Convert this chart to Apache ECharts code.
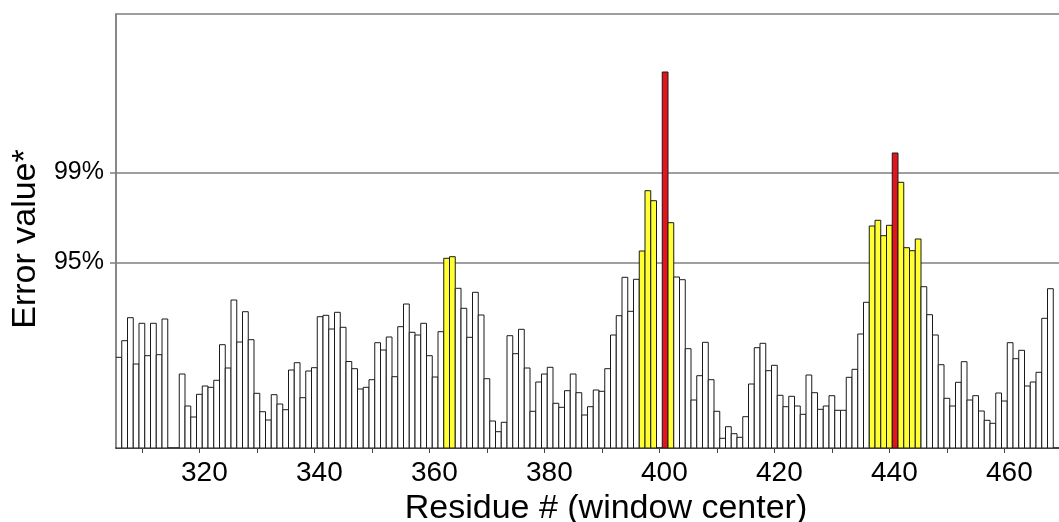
<!DOCTYPE html>
<html>
<head>
<meta charset="utf-8">
<script src="https://cdn.jsdelivr.net/npm/echarts@6/dist/echarts.min.js"></script>
<style>
html,body{margin:0;padding:0;background:#fff;}
#chart{width:1059px;height:522px;}
</style>
</head>
<body>
<div id="chart"></div>
<script>
// ---- data ----
const firstResidue = 306;
// error value per residue (306..468), arbitrary units; null = no window value
const errorValues = [
  90.7,107.3,130.3,84,124.7,92.3,124.7,93.3,129,null,          // 306-315
  null,74,42,31,53.7,62,60.7,67.7,103.3,80,                     // 316-325
  148,106,136.3,108.3,54.7,36.3,28,53.3,44,38.3,                // 326-335
  78,85.3,50.3,77,80.3,131.3,132.7,119,135.7,120.7,             // 336-345
  86.5,79.3,59,60.7,68.3,105.3,98,111,71.3,121.3,               // 346-355
  144,115.7,113,124.7,92.3,71,116.3,189.7,191.3,159.7,          // 356-365
  139.7,110.7,155.7,133,69.3,27,16.3,25.7,112.3,94.3,           // 366-375
  118.7,80,36.7,66,74,80.7,44.7,40.7,57.3,74,                   // 376-385
  55.3,33,41.3,58,56.7,79.3,113,132.3,170.7,136.7,              // 386-395
  168.7,197,257.3,247.3,null,376,225.3,171,168.3,99.3,          // 396-405
  48,72.3,105.7,68.3,36.7,9.7,21.3,14.3,10.7,31.3,              // 406-415
  64,100.3,104.7,77.3,82.7,52.7,41.3,51.7,42,33.7,              // 416-425
  73,55.3,38.7,42,52.3,37.7,37.7,70.7,78.7,114,                 // 426-435
  145.7,222,227.7,212.3,222.7,295,265.7,200.3,197.3,209,        // 436-445
  161.3,133.3,113,83.3,49.7,42,65.7,86.3,48,52.3,               // 446-455
  37,27.7,24.7,55,47,105.3,89.3,97.7,62,66,                     // 456-465
  75.7,129.7,159.3                                              // 466-468
];
const yellowResidues = [363,364,397,398,399,402,437,438,439,440,442,443,444,445];
const redResidues = [401,441];
const thresholdValues = [185.5, 275.7];
const thresholdLabels = ['95%', '99%'];
const xTickValues = [310,320,330,340,350,360,370,380,390,400,410,420,430,440,450,460,470];
const xLabelValues = [320,340,360,380,400,420,440,460];

// ---- chart ----
const pxPerResidue = 5.75;
const gridLeft = 116, gridWidth = 950;
const xMin = 305.5, xMax = xMin + gridWidth / pxPerResidue;

const barData = [];
errorValues.forEach((v, i) => {
  if (v === null) return;
  const r = firstResidue + i;
  let color = '#ffffff';
  if (redResidues.includes(r)) color = '#e3141b';
  else if (yellowResidues.includes(r)) color = '#ffff33';
  barData.push({ value: [r, v], itemStyle: { color: color } });
});

function renderBar(params, api) {
  const r = api.value(0), v = api.value(1);
  const p0 = api.coord([r - 0.5, 0]);
  const p1 = api.coord([r + 0.5, v]);
  return {
    type: 'rect',
    shape: { x: p0[0], y: p1[1], width: p1[0] - p0[0], height: p0[1] - p1[1] },
    style: { fill: api.visual('color'), stroke: '#1a1a1a', lineWidth: 1 }
  };
}

const FONT = '"Liberation Sans", Arial, Helvetica, sans-serif';
const chart = echarts.init(document.getElementById('chart'), null, { renderer: 'canvas' });
chart.setOption({
  animation: false,
  backgroundColor: '#ffffff',
  grid: {
    left: gridLeft, top: 14, width: gridWidth, height: 434,
    containLabel: false, outerBoundsMode: 'none',
    show: true, borderColor: '#7f7f7f', borderWidth: 1.5, backgroundColor: 'transparent'
  },
  xAxis: {
    type: 'value', min: xMin, max: xMax,
    axisLine: { show: true, lineStyle: { color: '#222', width: 1.5 } },
    axisTick: { show: true, customValues: xTickValues, length: 5, lineStyle: { color: '#444', width: 1 } },
    axisLabel: { customValues: xLabelValues, fontSize: 28, color: '#000', fontFamily: FONT, margin: 11, padding: [0, 0, 0, 10] },
    splitLine: { show: false },
    name: 'Residue # (window center)', nameLocation: 'middle', nameGap: 44,
    nameTextStyle: { fontSize: 34, color: '#000', fontFamily: FONT, padding: [0, 0, 0, 30] }
  },
  yAxis: {
    type: 'value', min: 0, max: 434,
    axisLine: { show: true, lineStyle: { color: '#7f7f7f', width: 1.5 } },
    axisTick: { show: true, customValues: thresholdValues, length: 6, lineStyle: { color: '#7f7f7f', width: 1.5 } },
    axisLabel: {
      customValues: thresholdValues, fontSize: 25, color: '#000', fontFamily: FONT, margin: 12,
      formatter: function (v) {
        let best = 0;
        thresholdValues.forEach((t, i) => { if (Math.abs(t - v) < Math.abs(thresholdValues[best] - v)) best = i; });
        return thresholdLabels[best];
      }
    },
    splitLine: { show: true, lineStyle: { color: '#7f7f7f', width: 1.5 } },
    name: 'Error value*', nameLocation: 'middle', nameGap: 72, nameRotate: 90,
    nameTextStyle: { fontSize: 34, color: '#000', fontFamily: FONT, padding: [0, 16, 0, 0] }
  },
  series: [{
    type: 'custom',
    renderItem: renderBar,
    data: barData,
    encode: { x: 0, y: 1 },
    clip: true
  }]
});
</script>
</body>
</html>
